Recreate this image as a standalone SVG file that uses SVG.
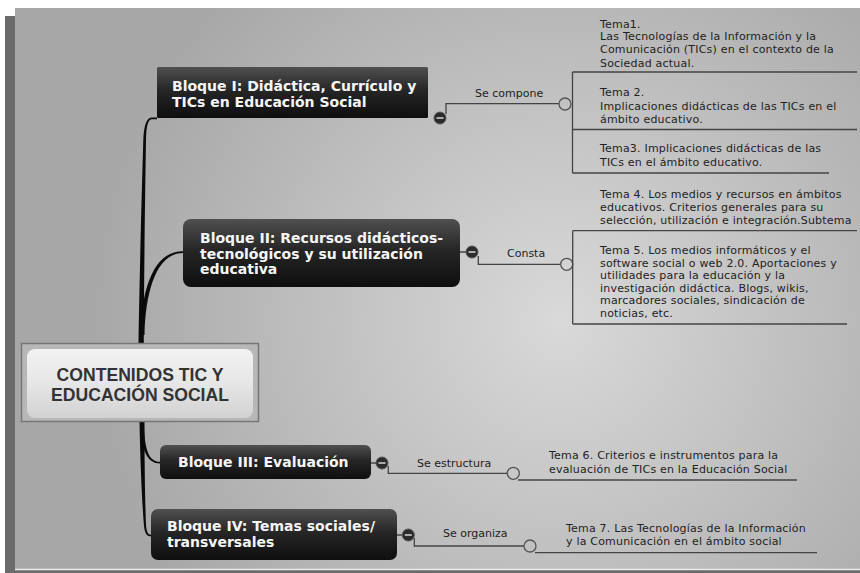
<svg xmlns="http://www.w3.org/2000/svg" width="860" height="573" viewBox="0 0 860 573">
<defs>
<radialGradient id="bg" gradientUnits="userSpaceOnUse" cx="560" cy="320" r="470">
<stop offset="0" stop-color="#d9d9d9"/>
<stop offset="1" stop-color="#a7a7a7"/>
</radialGradient>
<linearGradient id="dark" x1="0" y1="0" x2="0" y2="1">
<stop offset="0" stop-color="#505050"/>
<stop offset="0.45" stop-color="#262626"/>
<stop offset="1" stop-color="#0e0e0e"/>
</linearGradient>
<linearGradient id="light" x1="0" y1="0" x2="0" y2="1">
<stop offset="0" stop-color="#f2f2f2"/>
<stop offset="0.5" stop-color="#e6e6e6"/>
<stop offset="1" stop-color="#d2d2d2"/>
</linearGradient>
<style>
.blk{font-family:"DejaVu Sans",Verdana,sans-serif;font-weight:bold;font-size:14px;fill:#f6f6f6}
.tema{font-family:"DejaVu Sans",Verdana,sans-serif;font-size:11px;letter-spacing:0.2px;fill:#222}
.lab{font-family:"DejaVu Sans",Verdana,sans-serif;font-size:11px;fill:#222}
.ln{stroke:#444;stroke-width:1.3;fill:none}
.oc{stroke:#555;stroke-width:1.3;fill:none}
.cc{fill:#2b2b2b;stroke:#555;stroke-width:1}
.mn{stroke:#cfcfcf;stroke-width:1.6}
.trunk{fill:#0a0a0a}
</style>
</defs>
<rect x="0" y="0" width="860" height="573" fill="#ffffff"/>
<rect x="5" y="16" width="855" height="557" fill="#6b6b6b"/>
<rect x="15" y="8" width="845" height="561" fill="url(#bg)"/>
<line x1="15" y1="569.5" x2="860" y2="569.5" stroke="#ececec" stroke-width="1.5"/>

<g id="connectors">
<path class="trunk" d="M138.5,343 C139.5,280 141.5,200 143.3,140 C144,125 146.5,117.5 152,117.5 L157,117.5 L157,119.3 L152,119.3 C148,119.5 146.3,126 146,140 C145,200 144,280 143.8,343 Z"/>
<path class="trunk" d="M140.5,335 C141.5,288 154,251 183,251.2 L183,253 C157,253 145.5,290 144.5,335 Z"/>
<path class="trunk" d="M139.5,422 C140.3,460 141.8,500 144,526 C144.8,533 146.5,536.3 151,536.3 L151,534.7 C148,534.7 146.6,532 146,525 C145,500 144.5,460 144.5,422 Z"/>
<path class="trunk" d="M140.5,428 C142,450 147,463.5 160,463.5 L160,461.8 C149,461.8 145,450 144,428 Z"/>

<!-- Bloque I -->
<path class="ln" d="M446,114 V103.7 H559"/>
<circle class="oc" cx="565" cy="104" r="6"/>
<path class="ln" d="M572.5,72 V173"/>
<path class="ln" d="M572.5,72 H857 M572.5,129.5 H857 M572.5,173 H829"/>
<!-- Bloque II -->
<path class="ln" d="M460,252 H466 M478.3,256 V264.3 H560.5"/>
<circle class="oc" cx="566.7" cy="264.3" r="6"/>
<path class="ln" d="M572.7,230.7 V324 M572.7,230.7 H857 M572.7,324 H847"/>
<!-- Bloque III -->
<path class="ln" d="M371,463 H376 M388.3,466 V473.3 H507"/>
<circle class="oc" cx="513.3" cy="473.3" r="6"/>
<path class="ln" d="M518,480 H797"/>
<!-- Bloque IV -->
<path class="ln" d="M397,535 H402 M414.3,538 V546 H524"/>
<circle class="oc" cx="530" cy="546" r="6"/>
<path class="ln" d="M535,552.7 H817"/>

<text class="lab" x="475" y="97">Se compone</text>
<text class="lab" x="507" y="257">Consta</text>
<text class="lab" x="417" y="467">Se estructura</text>
<text class="lab" x="443" y="537">Se organiza</text>
</g>

<g id="central">
<rect x="21.5" y="343.5" width="237" height="78" fill="#b7b7b7" stroke="#777" stroke-width="1.5"/>
<rect x="27" y="349" width="226" height="69" rx="8" fill="url(#light)"/>
<text x="140" y="381" text-anchor="middle" font-family="'Liberation Sans',Arial,sans-serif" font-weight="bold" font-size="17.6" fill="#333">CONTENIDOS TIC Y</text>
<text x="140" y="401" text-anchor="middle" font-family="'Liberation Sans',Arial,sans-serif" font-weight="bold" font-size="17.6" fill="#333">EDUCACIÓN SOCIAL</text>
</g>

<g id="bloque1">
<rect x="157" y="67" width="271" height="51" rx="1.5" fill="url(#dark)"/>
<text class="blk" x="172" y="91">Bloque I: Didáctica, Currículo y</text>
<text class="blk" x="172" y="106.5">TICs en Educación Social</text>
<circle class="cc" cx="440" cy="118" r="6"/>
<line class="mn" x1="436.5" y1="118" x2="443.5" y2="118"/>
</g>

<g id="bloque2">
<rect x="183" y="219" width="277" height="68" rx="8" fill="url(#dark)"/>
<text class="blk" x="200" y="243">Bloque II: Recursos didácticos-</text>
<text class="blk" x="200" y="258.5">tecnológicos y su utilización</text>
<text class="blk" x="200" y="274">educativa</text>
<circle class="cc" cx="472" cy="252" r="6"/>
<line class="mn" x1="468.5" y1="252" x2="475.5" y2="252"/>
</g>

<g id="bloque3">
<rect x="160" y="445" width="211" height="34" rx="6" fill="url(#dark)"/>
<text class="blk" x="178" y="467">Bloque III: Evaluación</text>
<circle class="cc" cx="382" cy="463" r="6"/>
<line class="mn" x1="378.5" y1="463" x2="385.5" y2="463"/>
</g>

<g id="bloque4">
<rect x="151" y="509" width="246" height="51" rx="7" fill="url(#dark)"/>
<text class="blk" x="167" y="531">Bloque IV: Temas sociales/</text>
<text class="blk" x="167" y="547">transversales</text>
<circle class="cc" cx="408.3" cy="535" r="6"/>
<line class="mn" x1="404.8" y1="535" x2="411.8" y2="535"/>
</g>

<g id="tema1">
<text class="tema" x="600" y="27.5">Tema1.</text>
<text class="tema" x="600" y="40">Las Tecnologías de la Información y la</text>
<text class="tema" x="600" y="53">Comunicación (TICs) en el contexto de la</text>
<text class="tema" x="600" y="66.5">Sociedad actual.</text>
</g>
<g id="tema2">
<text class="tema" x="600" y="96">Tema 2.</text>
<text class="tema" x="600" y="109.5">Implicaciones didácticas de las TICs en el</text>
<text class="tema" x="600" y="123">ámbito educativo.</text>
</g>
<g id="tema3">
<text class="tema" x="600" y="152">Tema3. Implicaciones didácticas de las</text>
<text class="tema" x="600" y="165.5">TICs en el ámbito educativo.</text>
</g>
<g id="tema4">
<text class="tema" x="600" y="198">Tema 4. Los medios y recursos en ámbitos</text>
<text class="tema" x="600" y="211">educativos. Criterios generales para su</text>
<text class="tema" x="600" y="224">selección, utilización e integración.Subtema</text>
</g>
<g id="tema5">
<text class="tema" x="600" y="254">Tema 5. Los medios informáticos y el</text>
<text class="tema" x="600" y="266.6">software social o web 2.0. Aportaciones y</text>
<text class="tema" x="600" y="279.2">utilidades para la educación y la</text>
<text class="tema" x="600" y="291.8">investigación didáctica. Blogs, wikis,</text>
<text class="tema" x="600" y="304.4">marcadores sociales, sindicación de</text>
<text class="tema" x="600" y="317">noticias, etc.</text>
</g>
<g id="tema6">
<text class="tema" x="549" y="458.5">Tema 6. Criterios e instrumentos para la</text>
<text class="tema" x="549" y="473.3">evaluación de TICs en la Educación Social</text>
</g>
<g id="tema7">
<text class="tema" x="566" y="532">Tema 7. Las Tecnologías de la Información</text>
<text class="tema" x="566" y="545">y la Comunicación en el ámbito social</text>
</g>
</svg>
